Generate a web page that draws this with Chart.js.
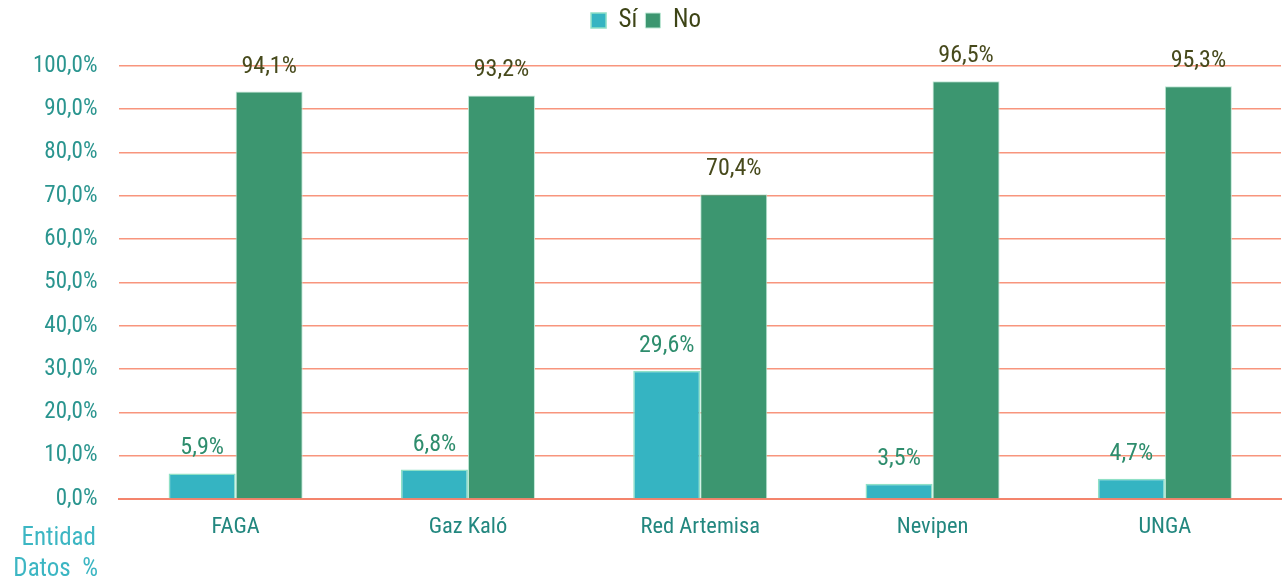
<!DOCTYPE html>
<html>
<head>
<meta charset="utf-8">
<script src="https://cdn.jsdelivr.net/npm/chart.js@4/dist/chart.umd.min.js"></script>
<style>
  html, body { margin: 0; padding: 0; background: #fff; }
  canvas { display: block; }
</style>
</head>
<body>
<canvas id="chart" width="1288" height="580"></canvas>
<script>
const categories = ['FAGA', 'Gaz Kaló', 'Red Artemisa', 'Nevipen', 'UNGA'];
const siValues = [5.9, 6.8, 29.6, 3.5, 4.7];
const noValues = [94.1, 93.2, 70.4, 96.5, 95.3];
const seriesNames = ['Sí', 'No'];
const axisNotes = ['Entidad', 'Datos  %'];

const FONT = '"Roboto Condensed", "Roboto", sans-serif';

function pct(v) {
  return v.toFixed(1).replace('.', ',') + '%';
}

// value labels above each bar
const barLabels = {
  id: 'barLabels',
  afterDatasetsDraw(chart) {
    const ctx = chart.ctx;
    ctx.save();
    ctx.font = '24px ' + FONT;
    ctx.textAlign = 'center';
    ctx.textBaseline = 'alphabetic';
    chart.data.datasets.forEach((ds, i) => {
      const meta = chart.getDatasetMeta(i);
      ctx.fillStyle = i === 0 ? '#2e8d6d' : '#474a1c';
      meta.data.forEach((bar, j) => {
        ctx.fillText(pct(ds.data[j]), bar.x, bar.y - 19);
      });
    });
    ctx.restore();
  }
};

// "Entidad" / "Datos %" under the y axis
const cornerNotes = {
  id: 'cornerNotes',
  afterDraw(chart) {
    const ctx = chart.ctx;
    ctx.save();
    ctx.font = '25px ' + FONT;
    ctx.fillStyle = '#3cb6c3';
    ctx.textAlign = 'right';
    ctx.textBaseline = 'alphabetic';
    ctx.fillText(axisNotes[0], 96, 545);
    ctx.fillText(axisNotes[1], 98, 576);
    ctx.restore();
  }
};

// keep the legend near the top but leave room before the plot
const legendGap = {
  id: 'legendGap',
  beforeLayout(chart) {
    const lg = chart.legend;
    if (lg && !lg._gapPatched) {
      const fit = lg.fit;
      lg.fit = function () {
        fit.call(this);
        this.height += 23;
      };
      lg._gapPatched = true;
    }
  }
};

new Chart(document.getElementById('chart'), {
  type: 'bar',
  data: {
    labels: categories,
    datasets: [
      {
        label: seriesNames[0],
        data: siValues,
        backgroundColor: '#35b4c2',
        borderColor: '#8fe0c6',
        borderWidth: 1.5,
        barPercentage: 1,
        categoryPercentage: 0.577
      },
      {
        label: seriesNames[1],
        data: noValues,
        backgroundColor: '#3c9670',
        borderColor: '#bfe8d6',
        borderWidth: 1,
        barPercentage: 1,
        categoryPercentage: 0.577
      }
    ]
  },
  options: {
    responsive: false,
    animation: false,
    layout: { padding: { top: 0, right: 7, bottom: 32, left: 11 } },
    plugins: {
      legend: {
        position: 'top',
        labels: {
          font: { family: FONT, size: 25 },
          color: '#3d4416',
          boxWidth: 15,
          boxHeight: 15,
          padding: 8
        }
      },
      tooltip: { enabled: false }
    },
    scales: {
      x: {
        grid: { display: false },
        border: { display: true, color: '#f4846c', width: 2 },
        ticks: {
          font: { family: FONT, size: 22.5 },
          color: '#22877f',
          padding: 7
        }
      },
      y: {
        min: 0,
        max: 100,
        grid: { color: '#f8957d', lineWidth: 1.6, drawTicks: false },
        border: { display: false },
        ticks: {
          stepSize: 10,
          font: { family: FONT, size: 23 },
          color: '#2a958f',
          padding: 22,
          callback: v => pct(v)
        }
      }
    }
  },
  plugins: [barLabels, cornerNotes, legendGap]
});
</script>
</body>
</html>
